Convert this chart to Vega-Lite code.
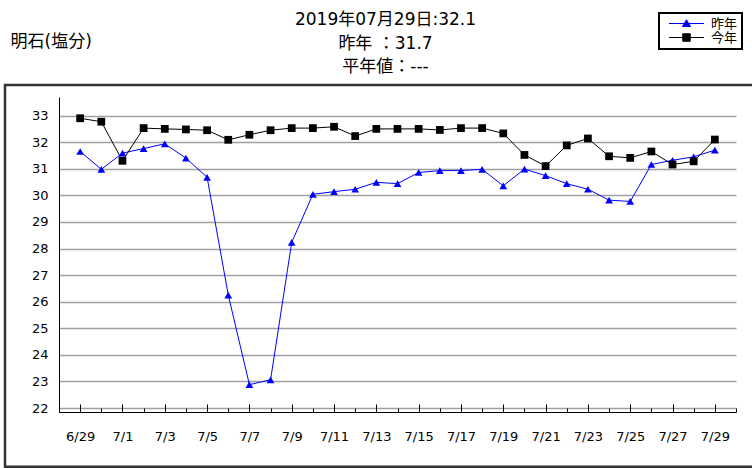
{
  "$schema": "https://vega.github.io/schema/vega-lite/v6.json",
  "width": 677,
  "height": 315,
  "autosize": {"type": "none"},
  "padding": {"left": 59, "top": 97, "right": 16, "bottom": 56},
  "background": "white",
  "config": {
    "view": {"stroke": null},
    "font": "DejaVu Sans, Noto Sans CJK JP",
    "axis": {"labelFont": "DejaVu Sans, Noto Sans CJK JP", "titleFont": "DejaVu Sans, Noto Sans CJK JP"}
  },
  "title": {
    "text": ["2019年07月29日:32.1", "昨年 ：31.7", "平年値：---"],
    "font": "DejaVu Sans, Noto Sans CJK JP",
    "fontSize": 17,
    "fontWeight": "normal",
    "color": "#000",
    "lineHeight": 23.5,
    "anchor": "middle",
    "dx": -12,
    "dy": 68
  },
  "datasets": {
    "obs": [
      {"date": "2019/06/29", "series": "昨年", "value": 31.65},
      {"date": "2019/06/30", "series": "昨年", "value": 30.98},
      {"date": "2019/07/01", "series": "昨年", "value": 31.59},
      {"date": "2019/07/02", "series": "昨年", "value": 31.76},
      {"date": "2019/07/03", "series": "昨年", "value": 31.94},
      {"date": "2019/07/04", "series": "昨年", "value": 31.4},
      {"date": "2019/07/05", "series": "昨年", "value": 30.68},
      {"date": "2019/07/06", "series": "昨年", "value": 26.25},
      {"date": "2019/07/07", "series": "昨年", "value": 22.88},
      {"date": "2019/07/08", "series": "昨年", "value": 23.06},
      {"date": "2019/07/09", "series": "昨年", "value": 28.23},
      {"date": "2019/07/10", "series": "昨年", "value": 30.04},
      {"date": "2019/07/11", "series": "昨年", "value": 30.14},
      {"date": "2019/07/12", "series": "昨年", "value": 30.23},
      {"date": "2019/07/13", "series": "昨年", "value": 30.49},
      {"date": "2019/07/14", "series": "昨年", "value": 30.44},
      {"date": "2019/07/15", "series": "昨年", "value": 30.86},
      {"date": "2019/07/16", "series": "昨年", "value": 30.93},
      {"date": "2019/07/17", "series": "昨年", "value": 30.93},
      {"date": "2019/07/18", "series": "昨年", "value": 30.98},
      {"date": "2019/07/19", "series": "昨年", "value": 30.36},
      {"date": "2019/07/20", "series": "昨年", "value": 30.99},
      {"date": "2019/07/21", "series": "昨年", "value": 30.74},
      {"date": "2019/07/22", "series": "昨年", "value": 30.44},
      {"date": "2019/07/23", "series": "昨年", "value": 30.23},
      {"date": "2019/07/24", "series": "昨年", "value": 29.82},
      {"date": "2019/07/25", "series": "昨年", "value": 29.77},
      {"date": "2019/07/26", "series": "昨年", "value": 31.16},
      {"date": "2019/07/27", "series": "昨年", "value": 31.32},
      {"date": "2019/07/28", "series": "昨年", "value": 31.45},
      {"date": "2019/07/29", "series": "昨年", "value": 31.7},
      {"date": "2019/06/29", "series": "今年", "value": 32.9},
      {"date": "2019/06/30", "series": "今年", "value": 32.77},
      {"date": "2019/07/01", "series": "今年", "value": 31.3},
      {"date": "2019/07/02", "series": "今年", "value": 32.53},
      {"date": "2019/07/03", "series": "今年", "value": 32.5},
      {"date": "2019/07/04", "series": "今年", "value": 32.48},
      {"date": "2019/07/05", "series": "今年", "value": 32.45},
      {"date": "2019/07/06", "series": "今年", "value": 32.09},
      {"date": "2019/07/07", "series": "今年", "value": 32.28},
      {"date": "2019/07/08", "series": "今年", "value": 32.45},
      {"date": "2019/07/09", "series": "今年", "value": 32.53},
      {"date": "2019/07/10", "series": "今年", "value": 32.53},
      {"date": "2019/07/11", "series": "今年", "value": 32.58},
      {"date": "2019/07/12", "series": "今年", "value": 32.23},
      {"date": "2019/07/13", "series": "今年", "value": 32.5},
      {"date": "2019/07/14", "series": "今年", "value": 32.5},
      {"date": "2019/07/15", "series": "今年", "value": 32.5},
      {"date": "2019/07/16", "series": "今年", "value": 32.46},
      {"date": "2019/07/17", "series": "今年", "value": 32.53},
      {"date": "2019/07/18", "series": "今年", "value": 32.53},
      {"date": "2019/07/19", "series": "今年", "value": 32.33},
      {"date": "2019/07/20", "series": "今年", "value": 31.52},
      {"date": "2019/07/21", "series": "今年", "value": 31.1},
      {"date": "2019/07/22", "series": "今年", "value": 31.88},
      {"date": "2019/07/23", "series": "今年", "value": 32.14},
      {"date": "2019/07/24", "series": "今年", "value": 31.47},
      {"date": "2019/07/25", "series": "今年", "value": 31.41},
      {"date": "2019/07/26", "series": "今年", "value": 31.65},
      {"date": "2019/07/27", "series": "今年", "value": 31.16},
      {"date": "2019/07/28", "series": "今年", "value": 31.28},
      {"date": "2019/07/29", "series": "今年", "value": 32.1}
    ]
  },
  "layer": [
    {
      "data": {"values": [{}]},
      "mark": {"type": "rect", "filled": false, "stroke": "#333", "strokeWidth": 2.5, "clip": false},
      "encoding": {
        "x": {"datum": {"year": 2019, "month": 6, "date": 25, "hours": 10, "minutes": 45}, "type": "temporal"},
        "x2": {"datum": {"year": 2019, "month": 7, "date": 31, "hours": 12}},
        "y": {
          "datum": 34.15,
          "type": "quantitative",
          "axis": {
            "title": "明石(塩分)",
            "titleAngle": 0,
            "titleAlign": "left",
            "titleBaseline": "middle",
            "titleX": -49,
            "titleY": -56,
            "titleFontSize": 17,
            "titleFontWeight": "normal",
            "titleColor": "#000",
            "values": [22, 23, 24, 25, 26, 27, 28, 29, 30, 31, 32, 33],
            "tickCount": 12,
            "labelOverlap": false,
            "grid": true,
            "gridColor": "#a0a0a0",
            "gridWidth": 1.3,
            "ticks": false,
            "domainColor": "#000",
            "labelFontSize": 13,
            "labelColor": "#000",
            "labelPadding": 11
          }
        },
        "y2": {"datum": 19.79}
      }
    },
    {
      "data": {"name": "obs"},
      "encoding": {
        "x": {
          "field": "date",
          "type": "temporal",
          "scale": {"domain": [{"year": 2019, "month": 6, "date": 28}, {"year": 2019, "month": 7, "date": 30}], "nice": false},
          "axis": {
            "title": null,
            "grid": false,
            "tickCount": {"interval": "day", "step": 1},
            "labelExpr": "round((datum.value - datetime(2019,5,29)) / 86400000) % 2 == 0 ? timeFormat(datum.value, '%-m/%-d') : ''",
            "tickSize": {"condition": {"test": "round((datum.value - datetime(2019,5,29)) / 86400000) % 2 == 0", "value": -8}, "value": -4},
            "tickColor": "#000",
            "domainColor": "#000",
            "labelFontSize": 13,
            "labelColor": "#000",
            "labelPadding": 26,
            "labelFlush": false,
            "labelOverlap": false
          }
        },
        "y": {
          "field": "value",
          "type": "quantitative",
          "scale": {"domain": [21.85, 33.7], "nice": false, "zero": false},
          "axis": {
            "title": "明石(塩分)",
            "titleAngle": 0,
            "titleAlign": "left",
            "titleBaseline": "middle",
            "titleX": -49,
            "titleY": -56,
            "titleFontSize": 17,
            "titleFontWeight": "normal",
            "titleColor": "#000",
            "values": [22, 23, 24, 25, 26, 27, 28, 29, 30, 31, 32, 33],
            "tickCount": 12,
            "labelOverlap": false,
            "grid": true,
            "gridColor": "#a0a0a0",
            "gridWidth": 1.3,
            "ticks": false,
            "domainColor": "#000",
            "labelFontSize": 13,
            "labelColor": "#000",
            "labelPadding": 11
          }
        },
        "color": {
          "field": "series",
          "type": "nominal",
          "scale": {"domain": ["昨年", "今年"], "range": ["#0000ff", "#000000"]},
          "legend": {
            "title": null,
            "orient": "none",
            "legendX": 600,
            "legendY": -84,
            "direction": "vertical",
            "strokeColor": "#000",
            "fillColor": "white",
            "padding": 4,
            "labelFontSize": 13,
            "labelColor": "#000",
            "labelFont": "Noto Sans CJK JP",
            "symbolSize": 100,
            "symbolOffset": 17,
            "labelOffset": 18,
            "rowPadding": 0,
            "encode": {
              "legend": {"update": {"strokeWidth": {"value": 2}}},
              "symbols": {
                "update": {
                  "shape": {"signal": "datum.value === '昨年' ? 'M-3.5,0H3.5M0,-0.75L0.8,0.6L-0.8,0.6Z' : 'M-3.5,0H3.5M-0.75,-0.75H0.75V0.75H-0.75Z'"},
                  "fill": {"signal": "scale('color', datum.value)"},
                  "stroke": {"signal": "scale('color', datum.value)"},
                  "strokeWidth": {"value": 1},
                  "opacity": {"value": 1}
                }
              }
            }
          }
        }
      },
      "layer": [
        {"mark": {"type": "line", "strokeWidth": 1}},
        {
          "transform": [{"filter": "datum.series === '昨年'"}],
          "mark": {"type": "point", "shape": "triangle-up", "filled": true, "opacity": 1, "size": 60}
        },
        {
          "transform": [{"filter": "datum.series === '今年'"}],
          "mark": {"type": "point", "shape": "square", "filled": true, "opacity": 1, "size": 60}
        }
      ]
    }
  ]
}
